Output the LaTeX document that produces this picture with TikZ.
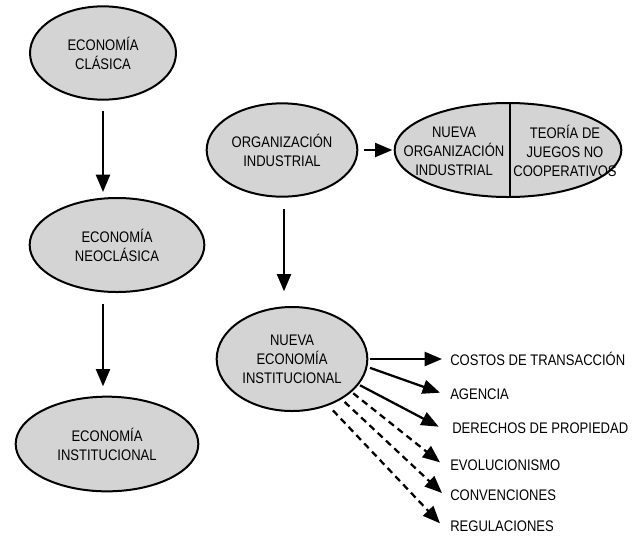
\documentclass[tikz,border=0pt]{standalone}
\usepackage{fontspec}
\setmainfont{Liberation Sans}[FakeStretch=0.85]
\usetikzlibrary{shapes.geometric,arrows.meta}
\definecolor{ellfill}{RGB}{212,212,212}
\begin{document}
\begin{tikzpicture}[x=0.75pt,y=-0.75pt,
  every node/.style={font=\fontsize{11.5pt}{14.25pt}\selectfont},
  ell/.style={ellipse,draw,line width=1.5pt,fill=ellfill,inner sep=0pt,align=center},
  txt/.style={inner sep=0pt,align=center},
  lbl/.style={inner sep=0pt,anchor=west},
  arr/.style={line width=1.7pt,-{Triangle[length=13pt,width=10.5pt]}},
  darr/.style={arr,dash pattern=on 5pt off 3.5pt}]
\useasboundingbox (0,0) rectangle (641,540);
% left column
\node[ell,minimum width=109.5pt,minimum height=70pt] (cla) at (103,53) {ECONOMÍA\\CLÁSICA};
\node[ell,minimum width=131pt,minimum height=70.5pt] (neo) at (117,245) {ECONOMÍA\\NEOCLÁSICA};
\node[ell,minimum width=137pt,minimum height=71pt] (ins) at (107,444) {ECONOMÍA\\INSTITUCIONAL};
\draw[arr,shorten <=7.5pt,shorten >=3.75pt] (cla.south) -- (cla.south |- neo.north);
\draw[arr,shorten <=8.25pt,shorten >=7pt] (cla.south |- neo.south) -- (cla.south |- ins.north);
% right part
\node[ell,minimum width=113pt,minimum height=70pt] (org) at (282,150) {ORGANIZACIÓN\\INDUSTRIAL};
\node[ell,minimum width=170pt,minimum height=70.5pt] (nio) at (508,150) {};
\draw[line width=1.5pt] ([xshift=1.5pt]nio.north) -- ([xshift=1.5pt]nio.south);
\node[txt] (nioa) at (454,151) {NUEVA\\ORGANIZACIÓN\\INDUSTRIAL};
\node[txt] (niob) at (565,151) {TEORÍA DE\\JUEGOS NO\\COOPERATIVOS};
\draw[arr,shorten <=4pt,shorten >=1pt] (org.east) -- (nio.west);
\node[ell,minimum width=113pt,minimum height=78pt] (nei) at (292,359) {NUEVA\\ECONOMÍA\\INSTITUCIONAL};
\draw[arr,shorten <=8.6pt,shorten >=11pt] ([xshift=1.5pt]org.south) -- ([xshift=1.5pt]org.south |- nei.north);
% labels
\node[lbl] (lc) at (450,359) {COSTOS DE TRANSACCIÓN};
\node[lbl] (lag) at (450,394) {AGENCIA};
\node[lbl] (ld) at (452,428) {DERECHOS DE PROPIEDAD};
\node[lbl] (le) at (450,465) {EVOLUCIONISMO};
\node[lbl] (lcv) at (450,495) {CONVENCIONES};
\node[lbl] (lr) at (450,526) {REGULACIONES};
\draw[arr,shorten <=1.5pt] (nei.east) -- ([xshift=-6pt]lc.west);
\draw[arr,shorten <=2pt] (nei.-6) -- ([xshift=-7.5pt,yshift=1pt]lag.west);
\draw[arr,shorten <=1pt] (nei.-21) -- ([xshift=-10pt,yshift=1pt]ld.west);
\draw[darr,shorten <=1.5pt] (nei.-29) -- ([xshift=-7.5pt,yshift=2pt]le.west);
\draw[darr,shorten <=3pt] (nei.-39) -- ([xshift=-6pt,yshift=1.5pt]lcv.west);
\draw[darr,shorten <=5pt] (nei.-52) -- ([xshift=-7.5pt,yshift=2pt]lr.west);
\end{tikzpicture}
\end{document}
